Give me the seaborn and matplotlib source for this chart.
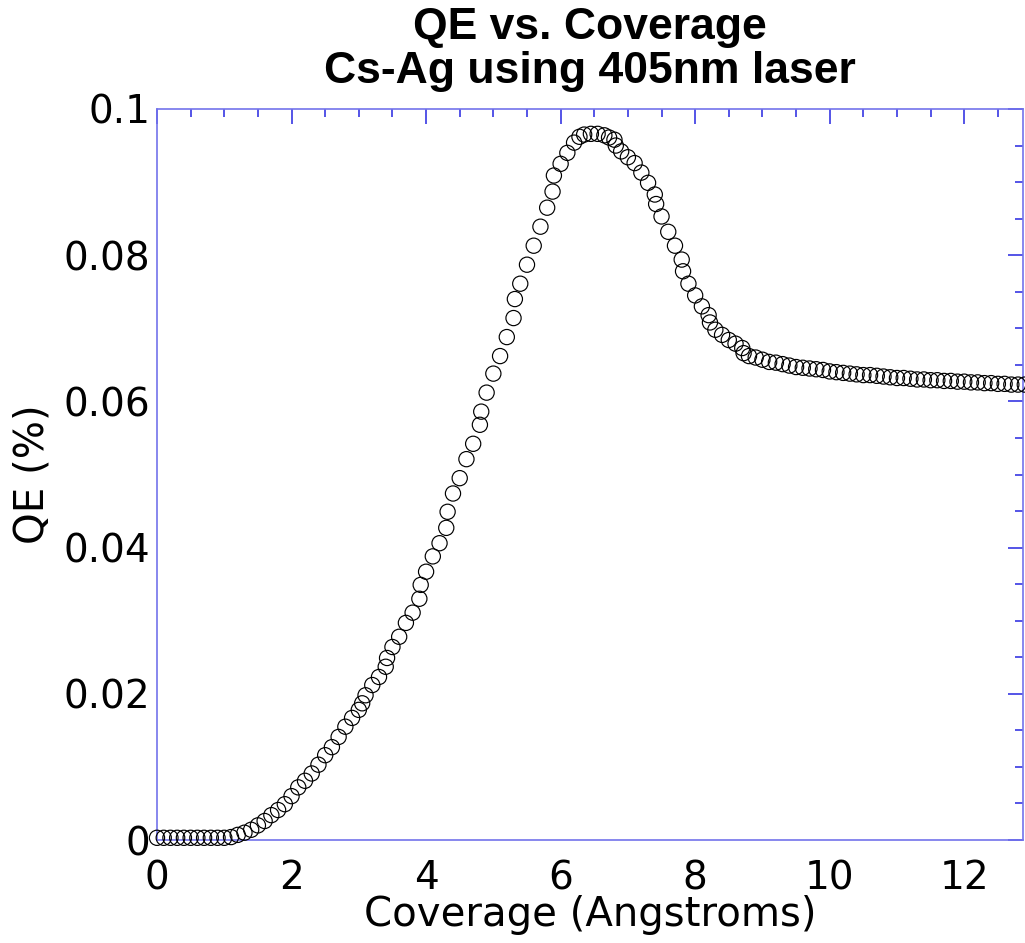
import numpy as np
import pandas as pd
import matplotlib
matplotlib.use("Agg")
import matplotlib.pyplot as plt
from matplotlib.ticker import MultipleLocator, FuncFormatter
import seaborn as sns

coverage = [0.0, 0.1, 0.2, 0.3, 0.4, 0.5, 0.6, 0.7, 0.8, 0.9, 1.0, 1.1, 1.2, 1.3, 1.4, 1.5,
            1.6, 1.7, 1.8, 1.9, 2.0, 2.1, 2.2, 2.3, 2.4, 2.5, 2.6, 2.7, 2.8, 2.9, 3.0,
            3.05, 3.1, 3.2, 3.3, 3.4, 3.42, 3.5, 3.6, 3.7, 3.8, 3.9, 3.92, 4.0, 4.1,
            4.2, 4.3, 4.32, 4.4, 4.5, 4.6, 4.7, 4.8, 4.82, 4.9, 5.0, 5.1, 5.2, 5.3,
            5.32, 5.4, 5.5, 5.6, 5.7, 5.8, 5.88, 5.9, 6.0, 6.1, 6.2, 6.28, 6.35, 6.45,
            6.55, 6.65, 6.72, 6.8, 6.82, 6.9, 7.0, 7.1, 7.2, 7.3, 7.4, 7.42, 7.5, 7.6,
            7.7, 7.8, 7.82, 7.9, 8.0, 8.1, 8.2, 8.22, 8.3, 8.4, 8.5, 8.6, 8.7, 8.72,
            8.8, 8.9, 9.0, 9.1, 9.2, 9.3, 9.4, 9.5, 9.6, 9.7, 9.8, 9.9, 10.0, 10.1,
            10.2, 10.3, 10.4, 10.5, 10.6, 10.7, 10.8, 10.9, 11.0, 11.1, 11.2, 11.3,
            11.4, 11.5, 11.6, 11.7, 11.8, 11.9, 12.0, 12.1, 12.2, 12.3, 12.4, 12.5,
            12.6, 12.7, 12.8, 12.9]
qe = [0.0003, 0.0003, 0.0003, 0.0003, 0.0003, 0.0003, 0.0003, 0.0003, 0.0003, 0.0003, 0.0003,
      0.0004, 0.0007, 0.0010, 0.0014, 0.0020, 0.0026, 0.0034, 0.0041, 0.0049, 0.0060,
      0.0072, 0.0081, 0.0091, 0.0103, 0.0116, 0.0127, 0.0141, 0.0155, 0.0167, 0.0178,
      0.0187, 0.0198, 0.0212, 0.0223, 0.0237, 0.0249, 0.0264, 0.0278, 0.0297, 0.0311,
      0.0330, 0.0349, 0.0367, 0.0388, 0.0406, 0.0427, 0.0449, 0.0474, 0.0495, 0.0521,
      0.0542, 0.0568, 0.0586, 0.0612, 0.0638, 0.0662, 0.0688, 0.0714, 0.0740, 0.0761,
      0.0787, 0.0813, 0.0839, 0.0865, 0.0887, 0.0909, 0.0925, 0.0940, 0.0954, 0.0962,
      0.0965, 0.0966, 0.0966, 0.0964, 0.0961, 0.0958, 0.0950, 0.0942, 0.0934, 0.0926,
      0.0913, 0.0899, 0.0883, 0.0870, 0.0853, 0.0832, 0.0813, 0.0794, 0.0778, 0.0761,
      0.0745, 0.0730, 0.0718, 0.0708, 0.0698, 0.0691, 0.0684, 0.0679, 0.0673, 0.0666,
      0.0662, 0.0660, 0.0657, 0.0654, 0.0653, 0.0651, 0.0649, 0.0647, 0.0646, 0.0645,
      0.0644, 0.0643, 0.0641, 0.0640, 0.0639, 0.0638, 0.0637, 0.0636, 0.0636, 0.0635,
      0.0634, 0.0633, 0.0632, 0.0632, 0.0631, 0.0630, 0.0630, 0.0629, 0.0629, 0.0628,
      0.0628, 0.0627, 0.0627, 0.0626, 0.0626, 0.0625, 0.0625, 0.0624, 0.0624, 0.0623,
      0.0623, 0.0623]

x_ticks = [0, 2, 4, 6, 8, 10, 12]
y_ticks = [0, 0.02, 0.04, 0.06, 0.08, 0.1]

sns.set_style("white")
plt.rcParams["font.family"] = ["DejaVu Sans"]
plt.rcParams["text.color"] = "black"
plt.rcParams["axes.labelcolor"] = "black"

df = pd.DataFrame({"Coverage": coverage, "QE": qe})

W, H = 1025, 943
fig = plt.figure(figsize=(W / 100, H / 100), dpi=100)
left, right, top, bottom = 157, 1023, 109, 840
ax = fig.add_axes([left / W, 1 - bottom / H, (right - left) / W, (bottom - top) / H])

sns.scatterplot(data=df, x="Coverage", y="QE", ax=ax, marker="o", s=120,
                facecolors="none", edgecolors="black", linewidths=0.85, legend=False,
                clip_on=False, zorder=3)

ax.set_xlim(0, (right - left) / 67.27)
ax.set_ylim(0, 0.1)
ax.set_xticks(x_ticks)
ax.set_yticks(y_ticks)
ax.xaxis.set_minor_locator(MultipleLocator(0.5))
ax.yaxis.set_minor_locator(MultipleLocator(0.005))
ax.yaxis.set_major_formatter(FuncFormatter(lambda v, p: f"{v:g}"))
ax.xaxis.set_major_formatter(FuncFormatter(lambda v, p: f"{v:g}"))

spine_col = (0.45, 0.45, 0.92)
tick_col = (0.15, 0.15, 0.88)
for s in ax.spines.values():
    s.set_color(spine_col)
    s.set_linewidth(1.2)
    s.set_visible(True)
ax.tick_params(which="both", direction="in", top=True, right=True, color=tick_col,
               width=1.1, labelsize=28, labelcolor="black")
ax.tick_params(which="major", length=11)
ax.tick_params(which="minor", length=6)
ax.tick_params(axis="x", which="major", pad=14)
ax.tick_params(axis="y", which="major", pad=5)

ax.set_xlabel("Coverage (Angstroms)", fontsize=29, labelpad=-2, color="black")
ax.set_ylabel("QE (%)", fontsize=29, labelpad=8, color="black")
ax.grid(False)

fig.text((left + right) / 2 / W, 1 - 28 / H, "QE vs. Coverage", ha="center", va="center",
         fontsize=32, fontweight="bold", family="Liberation Sans", color="black")
fig.text((left + right) / 2 / W, 1 - 72 / H, "Cs-Ag using 405nm laser", ha="center",
         va="center", fontsize=32, fontweight="bold", family="Liberation Sans", color="black")

fig.savefig("out.png", dpi=100, facecolor="white")
